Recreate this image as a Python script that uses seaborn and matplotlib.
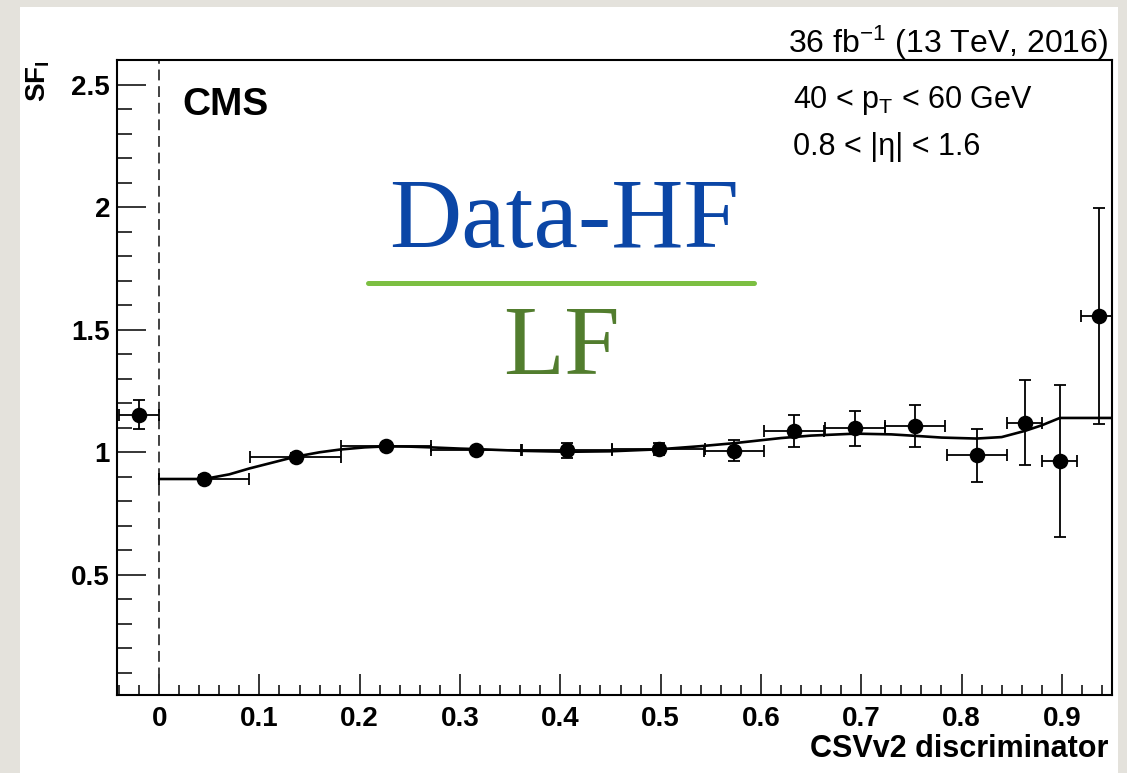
import numpy as np
import pandas as pd
import matplotlib
matplotlib.use("Agg")
import matplotlib.pyplot as plt
import seaborn as sns
from matplotlib.patches import Rectangle
from matplotlib.lines import Line2D
from matplotlib.ticker import MultipleLocator

# ---------------- data ----------------
bin_center = [-0.020, 0.045, 0.136, 0.226, 0.316, 0.407, 0.498, 0.573,
              0.633, 0.694, 0.754, 0.815, 0.863, 0.898, 0.937]
sf_value = [1.154, 0.891, 0.982, 1.024, 1.011, 1.008, 1.012, 1.006,
            1.086, 1.097, 1.106, 0.987, 1.120, 0.966, 1.557]
bin_halfwidth = [0.020, 0.045, 0.045, 0.045, 0.045, 0.045, 0.046, 0.030,
                 0.030, 0.030, 0.030, 0.030, 0.0175, 0.0175, 0.018]
sf_error = [0.060, 0.015, 0.015, 0.012, 0.012, 0.030, 0.025, 0.043,
            0.066, 0.072, 0.086, 0.107, 0.173, 0.310, 0.440]

fit_x = [0.000, 0.045, 0.070, 0.090, 0.115, 0.136, 0.160, 0.180, 0.205, 0.226,
         0.250, 0.271, 0.300, 0.316, 0.360, 0.407, 0.450, 0.498, 0.540, 0.573,
         0.620, 0.650, 0.694, 0.730, 0.754, 0.780, 0.815, 0.840, 0.863, 0.880,
         0.898, 0.950]
fit_y = [0.891, 0.891, 0.910, 0.934, 0.960, 0.982, 1.000, 1.011, 1.020, 1.024,
         1.023, 1.020, 1.015, 1.013, 1.006, 1.002, 1.004, 1.012, 1.025, 1.037,
         1.058, 1.068, 1.076, 1.073, 1.067, 1.060, 1.056, 1.062, 1.087, 1.110,
         1.140, 1.140]

x_ticks = [0, 0.1, 0.2, 0.3, 0.4, 0.5, 0.6, 0.7, 0.8, 0.9]
x_tick_labels = ["0", "0.1", "0.2", "0.3", "0.4", "0.5", "0.6", "0.7", "0.8", "0.9"]
y_ticks = [0.5, 1.0, 1.5, 2.0, 2.5]
y_tick_labels = ["0.5", "1", "1.5", "2", "2.5"]

points = pd.DataFrame({"x": bin_center, "sf": sf_value})
fit = pd.DataFrame({"x": fit_x, "sf": fit_y})

# ---------------- style ----------------
sns.set_theme(style="white")
plt.rcParams["font.family"] = ["Liberation Sans", "DejaVu Sans"]
plt.rcParams["mathtext.fontset"] = "custom"
plt.rcParams["mathtext.rm"] = "Liberation Sans"
plt.rcParams["mathtext.it"] = "Liberation Sans:italic"
plt.rcParams["mathtext.bf"] = "Liberation Sans:bold"

W, H = 1127, 773
def fx(px):
    return px / W
def fy(py):
    return 1 - py / H

fig = plt.figure(figsize=(W / 100, H / 100), dpi=100, facecolor="#E4E2DC")
fig.patches.append(Rectangle((fx(20), 0), (1118 - 20) / W, (773 - 7) / H,
                             transform=fig.transFigure, facecolor="white",
                             edgecolor="none", zorder=-10))

ax = fig.add_axes([fx(117), fy(695), (1112 - 117) / W, (695 - 60) / H])
ax.set_zorder(1)
ax.set_facecolor("white")

# ---------------- marks ----------------
ax.axvline(0, color="#333333", lw=1.3, dashes=(6, 3.2), zorder=1)
ax.errorbar(bin_center, sf_value, xerr=bin_halfwidth, yerr=sf_error,
            fmt="none", ecolor="black", elinewidth=1.3, capsize=4,
            capthick=1.3, zorder=2)
sns.lineplot(data=fit, x="x", y="sf", color="black", lw=1.9, ax=ax, zorder=3)
sns.scatterplot(data=points, x="x", y="sf", color="black", s=125,
                edgecolor="black", linewidth=0, ax=ax, zorder=4)

# ---------------- axes ----------------
ax.set_xlim(-0.042, 0.95)
ax.set_ylim(0.01, 2.6)
ax.set_xticks(x_ticks)
ax.set_xticklabels(x_tick_labels, fontweight="bold", fontsize=20)
ax.set_yticks(y_ticks)
ax.set_yticklabels(y_tick_labels, fontweight="bold", fontsize=20)
ax.xaxis.set_minor_locator(MultipleLocator(0.02))
ax.yaxis.set_minor_locator(MultipleLocator(0.1))
ax.tick_params(axis="x", which="major", direction="in", length=15, width=1.1,
               color="black", pad=8, labelcolor="black")
ax.tick_params(axis="x", which="minor", direction="in", length=7, width=1.1,
               color="black")
ax.tick_params(axis="y", which="major", direction="in", length=21, width=1.1,
               color="black", pad=5, labelcolor="black")
ax.tick_params(axis="y", which="minor", direction="in", length=11, width=1.1,
               color="black")
ax.tick_params(bottom=True, left=True, top=False, right=False, which="both")
ax.set_xlabel("")
ax.set_ylabel("")
for s in ax.spines.values():
    s.set_visible(True)
    s.set_color("black")
    s.set_linewidth(1.5)

# ---------------- texts ----------------
fig.text(fx(1108), fy(757), "CSVv2 discriminator", ha="right", va="baseline",
         fontsize=22, fontweight="bold", color="black", zorder=5)
fig.text(fx(38), fy(60), r"SF$_{\mathbf{l}}$", rotation=90, ha="center", va="top",
         fontsize=20, fontweight="bold", color="black", zorder=5)
fig.text(fx(182), fy(115), "CMS", ha="left", va="baseline", fontsize=28,
         fontweight="bold", color="black", zorder=5)
fig.text(fx(793), fy(108), r"40 < p$_{\mathrm{T}}$ < 60 GeV", ha="left",
         va="baseline", fontsize=22, color="black", zorder=5)
fig.text(fx(793), fy(155), "0.8 < |η| < 1.6", ha="left", va="baseline",
         fontsize=22, color="black", zorder=5)
fig.text(fx(1108), fy(53), r"36 fb$^{-1}$ (13 TeV, 2016)", ha="right",
         va="baseline", fontsize=23, color="black", zorder=5)

# overlay fraction
fig.text(fx(564), fy(247), "Data-HF", ha="center", va="baseline",
         family="Liberation Serif", fontsize=72, color="#0B46A6", zorder=5)
fig.add_artist(Line2D([fx(368), fx(754)], [fy(283), fy(283)],
                      transform=fig.transFigure, color="#7CBF42", lw=3.6,
                      zorder=5))
fig.text(fx(561), fy(374), "LF", ha="center", va="baseline",
         family="Liberation Serif", fontsize=72, color="#527D2E", zorder=5)

fig.savefig("out.png", dpi=100, facecolor=fig.get_facecolor())
